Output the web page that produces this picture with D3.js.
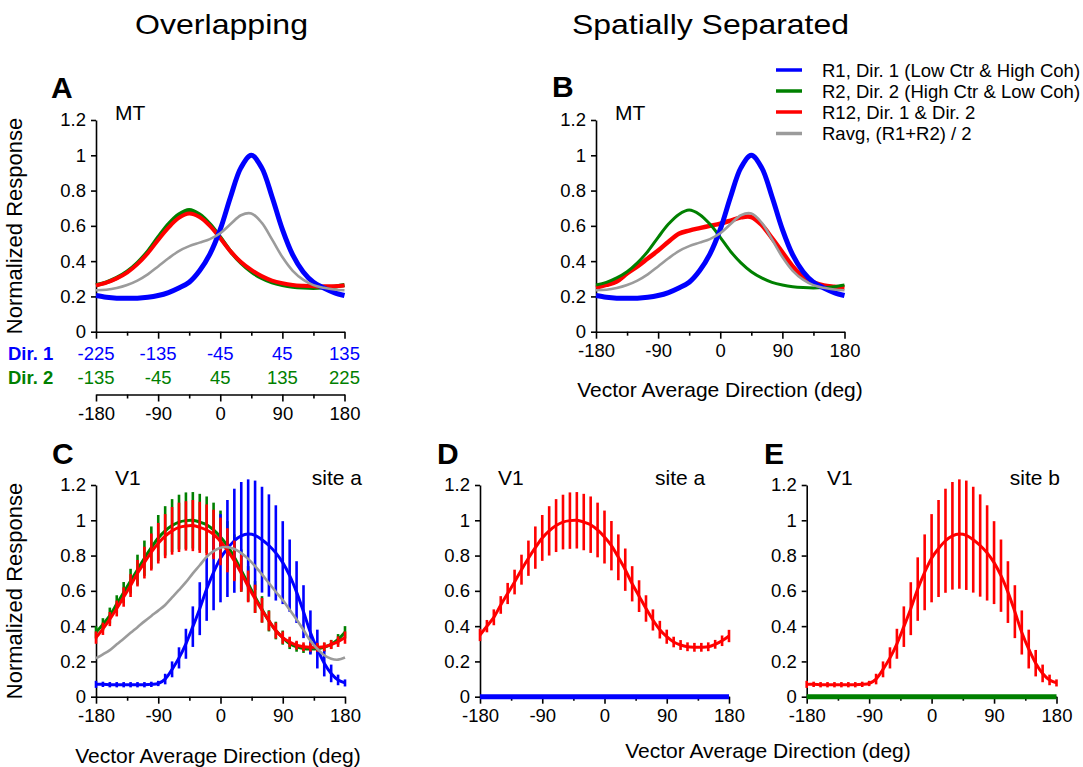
<!DOCTYPE html>
<html><head><meta charset="utf-8">
<script src="https://cdn.jsdelivr.net/npm/d3@7"></script>
<style>body{margin:0;background:#fff;} svg{display:block;}</style>
</head><body><svg id="c" width="1083" height="767"></svg>
<script>
// ---------- DATA ----------
const dirMT = [-180,-165,-150,-135,-120,-105,-90,-75,-60,-45,-30,-15,0,15,30,45,60,75,90,105,120,135,150,165,180];
const dirV1 = [-180,-170,-160,-150,-140,-130,-120,-110,-100,-90,-80,-70,-60,-50,-40,-30,-20,-10,0,10,20,30,40,50,60,70,80,90,100,110,120,130,140,150,160,170,180];
const yTicks = [0,0.2,0.4,0.6,0.8,1,1.2];
const xMajor = [-180,-90,0,90,180];
const xMinor = [-135,-45,45,135];
const dir1Labels = ["-225","-135","-45","45","135"];
const dir2Labels = ["-135","-45","45","135","225"];

// Panel A (MT, overlapping)
const mtA_R1 = [0.205,0.195,0.19,0.19,0.19,0.195,0.205,0.222,0.248,0.28,0.345,0.44,0.58,0.765,0.93,1.0,0.93,0.765,0.58,0.435,0.34,0.28,0.248,0.222,0.205];
const mtA_R2 = [0.265,0.28,0.305,0.34,0.39,0.455,0.535,0.61,0.665,0.69,0.665,0.61,0.535,0.455,0.39,0.34,0.305,0.28,0.265,0.255,0.25,0.248,0.25,0.255,0.265];
const mtA_R12 = [0.262,0.278,0.302,0.335,0.383,0.445,0.52,0.59,0.645,0.67,0.65,0.6,0.53,0.455,0.395,0.35,0.315,0.29,0.275,0.265,0.26,0.257,0.257,0.258,0.262];
const mtA_Ravg = [0.235,0.238,0.248,0.265,0.29,0.325,0.37,0.416,0.457,0.485,0.505,0.525,0.558,0.61,0.66,0.67,0.618,0.523,0.423,0.345,0.295,0.264,0.249,0.239,0.235];
// Panel B (MT, spatially separated)
const mtB_R1 = [0.205,0.195,0.19,0.19,0.19,0.195,0.205,0.222,0.248,0.28,0.345,0.44,0.58,0.765,0.93,1.0,0.93,0.765,0.58,0.435,0.34,0.28,0.248,0.222,0.205];
const mtB_R2 = [0.265,0.28,0.305,0.34,0.39,0.455,0.535,0.61,0.665,0.69,0.665,0.61,0.535,0.455,0.39,0.34,0.305,0.28,0.265,0.255,0.25,0.248,0.25,0.255,0.265];
const mtB_R12 = [0.25,0.265,0.285,0.33,0.37,0.415,0.46,0.51,0.555,0.573,0.587,0.60,0.613,0.63,0.648,0.65,0.605,0.53,0.45,0.37,0.31,0.28,0.262,0.255,0.25];
const mtB_Ravg = [0.235,0.238,0.248,0.265,0.29,0.325,0.37,0.416,0.457,0.485,0.505,0.525,0.558,0.61,0.66,0.67,0.618,0.523,0.423,0.345,0.295,0.264,0.249,0.239,0.235];

// Panel C (V1 site a, overlapping)
const v1C_R1 = [0.07,0.07,0.068,0.068,0.068,0.068,0.068,0.068,0.07,0.075,0.10,0.155,0.22,0.30,0.397,0.499,0.61,0.705,0.785,0.84,0.884,0.912,0.922,0.915,0.89,0.857,0.815,0.76,0.686,0.593,0.482,0.364,0.27,0.19,0.132,0.095,0.078];
const v1C_R1err = [0.02,0.015,0.015,0.015,0.015,0.015,0.015,0.015,0.015,0.015,0.03,0.045,0.06,0.085,0.115,0.15,0.18,0.215,0.25,0.275,0.295,0.305,0.31,0.31,0.30,0.29,0.27,0.235,0.205,0.175,0.15,0.125,0.11,0.075,0.05,0.03,0.02];
const v1C_R2 = [0.365,0.41,0.46,0.525,0.59,0.655,0.72,0.785,0.845,0.90,0.94,0.97,0.99,0.998,1.0,0.99,0.975,0.945,0.905,0.855,0.79,0.715,0.64,0.565,0.495,0.43,0.375,0.335,0.30,0.283,0.273,0.27,0.272,0.28,0.297,0.325,0.365];
const v1C_R2err = [0.035,0.035,0.045,0.05,0.06,0.07,0.085,0.10,0.12,0.13,0.14,0.15,0.155,0.16,0.16,0.16,0.16,0.155,0.15,0.14,0.13,0.12,0.10,0.09,0.075,0.06,0.05,0.04,0.03,0.028,0.025,0.025,0.025,0.025,0.025,0.03,0.035];
const v1C_R12 = [0.335,0.385,0.44,0.50,0.565,0.63,0.70,0.76,0.82,0.87,0.91,0.94,0.96,0.968,0.97,0.96,0.945,0.92,0.88,0.83,0.77,0.70,0.625,0.555,0.49,0.43,0.375,0.335,0.31,0.292,0.283,0.28,0.28,0.283,0.295,0.312,0.335];
const v1C_R12err = [0.035,0.035,0.04,0.045,0.055,0.065,0.075,0.09,0.105,0.115,0.125,0.135,0.14,0.14,0.145,0.145,0.145,0.14,0.135,0.125,0.115,0.105,0.09,0.08,0.07,0.055,0.045,0.035,0.03,0.025,0.025,0.025,0.025,0.025,0.025,0.03,0.035];
const v1C_Ravg = [0.218,0.24,0.264,0.297,0.329,0.362,0.394,0.427,0.458,0.488,0.52,0.563,0.605,0.649,0.699,0.745,0.793,0.825,0.845,0.848,0.837,0.814,0.781,0.74,0.693,0.644,0.595,0.548,0.493,0.438,0.378,0.317,0.271,0.235,0.215,0.21,0.222];

// Panel D (V1 site a, spatially separated)
const v1D_R12 = [0.35,0.40,0.45,0.52,0.585,0.65,0.72,0.785,0.845,0.90,0.94,0.97,0.99,0.998,1.0,0.99,0.975,0.945,0.905,0.856,0.79,0.72,0.64,0.57,0.50,0.435,0.38,0.34,0.31,0.293,0.283,0.28,0.28,0.283,0.297,0.317,0.344];
const v1D_R12err = [0.035,0.035,0.045,0.05,0.06,0.07,0.085,0.10,0.12,0.13,0.14,0.15,0.155,0.16,0.16,0.16,0.16,0.155,0.15,0.14,0.13,0.12,0.10,0.09,0.075,0.06,0.05,0.04,0.03,0.028,0.025,0.025,0.025,0.025,0.025,0.03,0.035];
const v1D_R1 = [0,0,0,0,0,0,0,0,0,0,0,0,0,0,0,0,0,0,0,0,0,0,0,0,0,0,0,0,0,0,0,0,0,0,0,0,0];

// Panel E (V1 site b, spatially separated)
const v1E_R12 = [0.07,0.07,0.068,0.068,0.068,0.068,0.068,0.068,0.07,0.075,0.10,0.155,0.22,0.30,0.397,0.499,0.61,0.705,0.785,0.84,0.884,0.912,0.922,0.915,0.89,0.857,0.815,0.76,0.686,0.593,0.482,0.364,0.27,0.19,0.132,0.095,0.078];
const v1E_R12err = [0.02,0.015,0.015,0.015,0.015,0.015,0.015,0.015,0.015,0.015,0.03,0.045,0.06,0.085,0.115,0.15,0.18,0.215,0.25,0.275,0.295,0.305,0.31,0.31,0.30,0.29,0.27,0.235,0.205,0.175,0.15,0.125,0.11,0.075,0.05,0.03,0.02];
const v1E_R2 = [0,0,0,0,0,0,0,0,0,0,0,0,0,0,0,0,0,0,0,0,0,0,0,0,0,0,0,0,0,0,0,0,0,0,0,0,0];

const legendLabels = ["R1, Dir. 1 (Low Ctr & High Coh)","R2, Dir. 2 (High Ctr & Low Coh)","R12, Dir. 1 & Dir. 2","Ravg, (R1+R2) / 2"];

// ---------- DRAWING ----------
const FONT = "'Liberation Sans', Arial, Helvetica, sans-serif";
const C = {blue:"#0000ff", green:"#008000", red:"#ff0000", gray:"#9b9b9b"};
const svg = d3.select("#c");

function panel(x0,x1,yTop,yBot){
  return {x:d3.scaleLinear().domain([-180,180]).range([x0,x1]),
          y:d3.scaleLinear().domain([0,1.2]).range([yBot,yTop])};
}
const PA = panel(96,344.5,120,331.7);
const PB = panel(596,844.5,120,331.7);
const PC = panel(96,345,485,696.7);
const PD = panel(480,729,485,696.7);
const PE = panel(806.7,1056.5,485,696.7);

function styleAxis(g){
  g.attr("font-size",null).attr("font-family",null);
  g.selectAll("path,line").attr("stroke","#000").attr("stroke-width",1.6);
  g.selectAll("text").attr("font-size",18.5).attr("font-family",FONT).attr("fill","#000");
}
function yAxis(p){
  const g = svg.append("g").attr("transform",`translate(${p.x(-180)},0)`);
  g.call(d3.axisLeft(p.y).tickValues(yTicks).tickSize(5).tickPadding(5).tickSizeOuter(0)
        .tickFormat(d=>String(+d.toFixed(1))));
  styleAxis(g);
}
function xAxis(p, ypos, withLabels){
  const gm = svg.append("g").attr("transform",`translate(0,${ypos})`);
  gm.call(d3.axisBottom(p.x).tickValues(xMinor).tickSize(4).tickSizeOuter(0).tickFormat(""));
  gm.select(".domain").remove();
  styleAxis(gm);
  const g = svg.append("g").attr("transform",`translate(0,${ypos})`);
  g.call(d3.axisBottom(p.x).tickValues(xMajor).tickSize(7).tickPadding(5).tickSizeOuter(0)
        .tickFormat(withLabels ? (d=>String(d)) : ""));
  styleAxis(g);
}
function curve(p, xs, ys, color, w){
  const line = d3.line().x(d=>p.x(d[0])).y(d=>p.y(d[1])).curve(d3.curveCatmullRom.alpha(0.5));
  svg.append("path").datum(xs.map((x,i)=>[x,ys[i]]))
    .attr("d",line).attr("fill","none").attr("stroke",color).attr("stroke-width",w)
    .attr("stroke-linejoin","round").attr("stroke-linecap","butt");
}
function flat(p, xs, ys, color, w){
  const line = d3.line().x(d=>p.x(d[0])).y(d=>p.y(d[1]));
  svg.append("path").datum(xs.map((x,i)=>[x,ys[i]]))
    .attr("d",line).attr("fill","none").attr("stroke",color).attr("stroke-width",w);
}
function errbars(p, xs, ys, es, color){
  svg.append("g").selectAll("line").data(xs.map((x,i)=>({x, v:ys[i], e:es[i]}))).join("line")
    .attr("x1",d=>p.x(d.x)).attr("x2",d=>p.x(d.x))
    .attr("y1",d=>p.y(d.v-d.e)).attr("y2",d=>p.y(d.v+d.e))
    .attr("stroke",color).attr("stroke-width",2.6);
}
function txt(x,y,s,opt={}){
  const t = svg.append("text").attr("x",x).attr("y",y).text(s)
    .attr("font-family",FONT).attr("font-size",opt.size||21).attr("fill",opt.fill||"#000");
  if(opt.anchor) t.attr("text-anchor",opt.anchor);
  if(opt.weight) t.attr("font-weight",opt.weight);
  if(opt.rotate) t.attr("transform",`rotate(-90,${x},${y})`);
  if(opt.len) t.attr("textLength",opt.len).attr("lengthAdjust","spacingAndGlyphs");
  return t;
}

// Titles
txt(135,34,"Overlapping",{size:28,len:173});
txt(572,34,"Spatially Separated",{size:28,len:277});

// Panel A
yAxis(PA); xAxis(PA,331.7,false);
curve(PA,dirMT,mtA_R2,C.green,4);
curve(PA,dirMT,mtA_R12,C.red,4);
curve(PA,dirMT,mtA_R1,C.blue,5);
curve(PA,dirMT,mtA_Ravg,C.gray,2.6);
txt(8,359.5,"Dir. 1",{size:18.5,weight:"bold",fill:C.blue});
txt(8,383.5,"Dir. 2",{size:18.5,weight:"bold",fill:C.green});
xMajor.forEach((d,i)=>{
  txt(PA.x(d),359.5,dir1Labels[i],{size:18.5,anchor:"middle",fill:C.blue});
  txt(PA.x(d),383.5,dir2Labels[i],{size:18.5,anchor:"middle",fill:C.green});
});
xAxis(PA,394.5,true);
txt(51,98,"A",{size:30,weight:"bold"});
txt(115,120,"MT",{size:21});
txt(22,226,"Normalized Response",{size:22,anchor:"middle",rotate:true});

// Panel B
yAxis(PB); xAxis(PB,331.7,true);
curve(PB,dirMT,mtB_R12,C.red,4.5);
curve(PB,dirMT,mtB_R2,C.green,3);
curve(PB,dirMT,mtB_R1,C.blue,5);
curve(PB,dirMT,mtB_Ravg,C.gray,2.6);
txt(552,97,"B",{size:30,weight:"bold"});
txt(615,120,"MT",{size:21});
txt(720,397,"Vector Average Direction (deg)",{size:21,anchor:"middle"});

// Legend
const legCols = [C.blue,C.green,C.red,C.gray];
const legY = [70,91,112,133.5];
legendLabels.forEach((s,i)=>{
  svg.append("line").attr("x1",776).attr("x2",802).attr("y1",legY[i]).attr("y2",legY[i])
    .attr("stroke",legCols[i]).attr("stroke-width",3.5);
  txt(822,legY[i]+6.5,s,{size:18.5});
});

// Panel C
yAxis(PC); xAxis(PC,696.7,true);
errbars(PC,dirV1,v1C_R2,v1C_R2err,C.green);
curve(PC,dirV1,v1C_R2,C.green,3);
errbars(PC,dirV1,v1C_R1,v1C_R1err,C.blue);
curve(PC,dirV1,v1C_R1,C.blue,3);
errbars(PC,dirV1,v1C_R12,v1C_R12err,C.red);
curve(PC,dirV1,v1C_R12,C.red,3);
curve(PC,dirV1,v1C_Ravg,C.gray,2.6);
txt(52,464,"C",{size:30,weight:"bold"});
txt(115,485,"V1",{size:21});
txt(362,485,"site a",{size:21,anchor:"end"});
txt(22,591,"Normalized Response",{size:22,anchor:"middle",rotate:true});
txt(218,763,"Vector Average Direction (deg)",{size:21,anchor:"middle"});

// Panel D
yAxis(PD); xAxis(PD,696.7,true);
errbars(PD,dirV1,v1D_R12,v1D_R12err,C.red);
curve(PD,dirV1,v1D_R12,C.red,3);
flat(PD,dirV1,v1D_R1,C.blue,5);
txt(437,464,"D",{size:30,weight:"bold"});
txt(498,485,"V1",{size:21});
txt(655,485,"site a",{size:21});

// Panel E
yAxis(PE); xAxis(PE,696.7,true);
errbars(PE,dirV1,v1E_R12,v1E_R12err,C.red);
curve(PE,dirV1,v1E_R12,C.red,3);
flat(PE,dirV1,v1E_R2,C.green,5);
txt(764,464,"E",{size:30,weight:"bold"});
txt(827,485,"V1",{size:21});
txt(1060,485,"site b",{size:21,anchor:"end"});
txt(768,758,"Vector Average Direction (deg)",{size:21,anchor:"middle"});
</script></body></html>
